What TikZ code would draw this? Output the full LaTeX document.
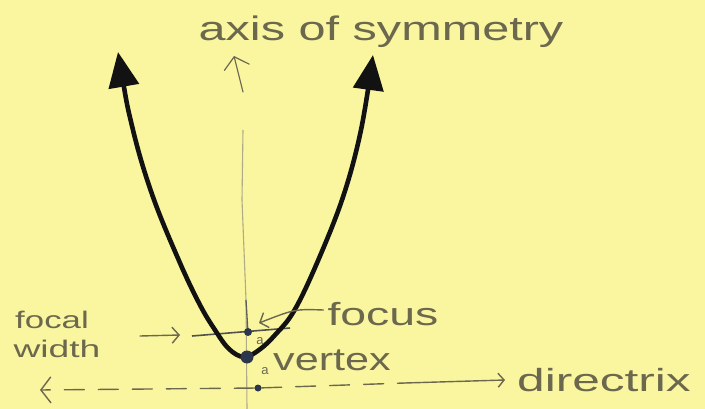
\documentclass[tikz,border=0pt]{standalone}
\usepackage{fontspec}
\setmainfont{Liberation Sans}
\usetikzlibrary{arrows.meta}
\definecolor{paper}{RGB}{250,246,160}
\definecolor{pencil}{RGB}{108,104,78}
\definecolor{axisc}{RGB}{175,170,135}
\definecolor{ink}{RGB}{18,18,18}
\definecolor{dotc}{RGB}{45,55,75}
\begin{document}
\begin{tikzpicture}[x=1pt,y=-1pt,
  hand/.style={text=pencil, inner sep=0pt, anchor=center},
  pencilline/.style={draw=pencil, line width=1.4pt, line cap=round},
  barb/.style={-{Straight Barb[length=7pt,width=16pt]}},
  dashline/.style={pencilline, dash pattern=on 20pt off 14pt},
  pt/.style={circle, fill=dotc, inner sep=0pt, minimum size=#1}]
\fill[paper] (0,0) rectangle (705,409);
\useasboundingbox (0,0) rectangle (705,409);

% axis of symmetry
\coordinate (axbot) at (247,409);
\coordinate (axtop) at (234,56);
\coordinate (axmid) at (243,92);
\draw[axisc, line width=1.1pt] (axbot) -- (246,300) -- (242,200) -- (243,130);
\draw[pencilline, line width=1.2pt, -{Straight Barb[length=11pt,width=26pt]}] (axmid) -- (axtop);
\draw[draw={rgb,255:red,95;green,95;blue,90}, line width=1.3pt] (246,300) -- (248,333);

% focal width line
\coordinate (fwL) at (192,336);
\coordinate (fwR) at (290,328);
\draw[draw={rgb,255:red,80;green,80;blue,76}, line width=1.6pt] (fwL) -- (fwR);

% parabola
\coordinate (L) at (118,52);
\coordinate (V) at (244,357);
\coordinate (R) at (373,55);
\draw[ink, line width=4.6pt, line cap=round,
  {Triangle[length=35pt,width=30pt]}-{Triangle[length=35pt,width=30pt]}]
  plot[smooth, tension=0.6] coordinates {(L) (133,130) (153,197) (180,263) (200,305) (215,330) (229,349) (V) (259,350) (275,335) (294,311) (317,263) (343,197) (361,130) (R)};

% points
\node[pt=8pt] (F) at (248,332) {};
\node[pt=13pt] (Vd) at (247,357) {};
\node[pt=7pt] (D) at (258,388) {};

% labels
\node[hand, font=\fontsize{34}{34}\selectfont] (axlbl) at (381,32) {\scalebox{1.43}[1]{axis of symmetry}};
\node[hand, font=\fontsize{32}{32}\selectfont] (foclbl) at (383,314) {\scalebox{1.45}[1]{focus}};
\node[hand, font=\fontsize{32}{32}\selectfont] (vertlbl) at (332,360) {\scalebox{1.35}[1]{vertex}};
\node[hand, font=\fontsize{32}{32}\selectfont] (dirlbl) at (604,380) {\scalebox{1.55}[1]{directrix}};
\node[hand, font=\fontsize{24}{24}\selectfont] (fwlbl1) at (52,320) {\scalebox{1.45}[1]{focal}};
\node[hand, font=\fontsize{24}{24}\selectfont] (fwlbl2) at (57,349) {\scalebox{1.55}[1]{width}};
\node[hand, font=\fontsize{13}{13}\selectfont] (a1) at (260,341) {a};
\node[hand, font=\fontsize{13}{13}\selectfont] (a2) at (265,371) {a};

% label arrows
\coordinate (fatip) at (259,323);
\draw[pencilline, barb] (foclbl.west) ++(-4,-4) .. controls (295,309) .. (fatip);
\coordinate (fwtail) at (140,336);
\coordinate (fwtip) at (180,335);
\draw[pencilline, barb] (fwtail) -- (fwtip);

% directrix
\coordinate (dleft) at (40,390);
\coordinate (dmid) at (405,383);
\draw[dashline, -{Straight Barb[length=10pt,width=26pt]}] (D) -- (dleft);
\draw[dashline] (D) -- (dmid);
\draw[pencilline, -{Straight Barb[length=6pt,width=14pt]}] (dmid) -- ([xshift=-12pt]dirlbl.west);
\end{tikzpicture}
\end{document}
